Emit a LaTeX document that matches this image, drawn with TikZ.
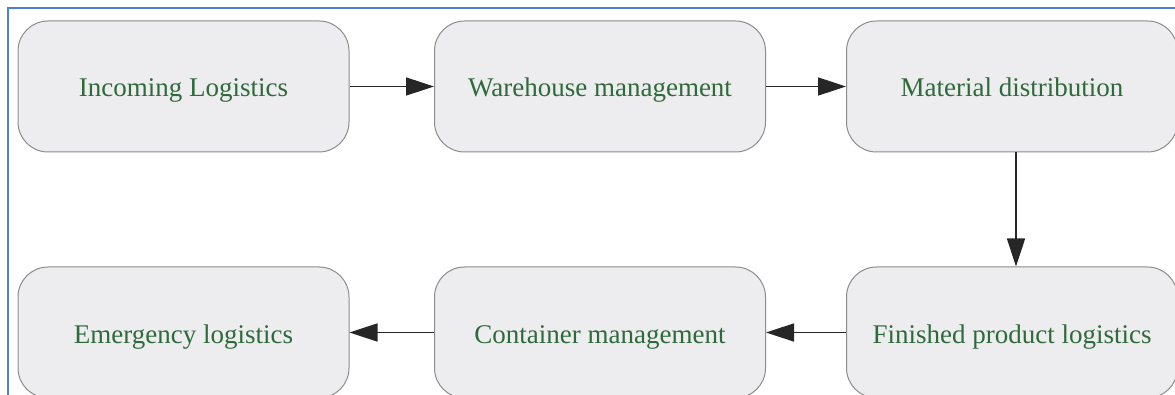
\documentclass[tikz,border=0pt]{standalone}
\usepackage{fontspec}
\setmainfont{Liberation Serif}
\usetikzlibrary{arrows.meta}
\definecolor{boxfill}{HTML}{EDEDF0}
\definecolor{boxline}{HTML}{8C8C8C}
\definecolor{txtgreen}{HTML}{2E6A3A}
\definecolor{frameblue}{HTML}{4F7FD9}
\begin{document}
\begin{tikzpicture}[x=1pt,y=-1pt,
  stagebox/.style={draw=boxline, line width=1pt, fill=boxfill, rounded corners=30pt,
    minimum width=331pt, minimum height=131pt, inner sep=0pt,
    text height=27pt, text depth=6pt,
    text=txtgreen, font=\fontsize{27}{30}\selectfont},
  flow/.style={draw=black!85, line width=1.6pt, -{Triangle[length=28pt,width=18pt]}}]
\useasboundingbox (0,0) rectangle (1175,395);
\begin{scope}
\clip (0,0) rectangle (1175,395);
\fill[white] (0,0) rectangle (1175,395);
\draw[frameblue, line width=2pt] (8,400) -- (8,8) -- (1180,8);
\node[stagebox] (in)  at (183.5,86.5) {Incoming Logistics};
\node[stagebox] (wh)  at (600,86.5) {Warehouse management};
\node[stagebox] (md)  at (1012,86.5) {Material distribution};
\node[stagebox] (em)  at (183.5,332.5) {Emergency logistics};
\node[stagebox] (cm)  at (600,332.5) {Container management};
\node[stagebox] (fp)  at (1012,332.5) {Finished product logistics};
\draw[flow] (in.east) -- (wh.west);
\draw[flow] (wh.east) -- (md.west);
\draw[flow] ([xshift=4pt]md.south) -- ([xshift=4pt]fp.north);
\draw[flow] (fp.west) -- (cm.east);
\draw[flow] (cm.west) -- (em.east);
\end{scope}
\end{tikzpicture}
\end{document}
